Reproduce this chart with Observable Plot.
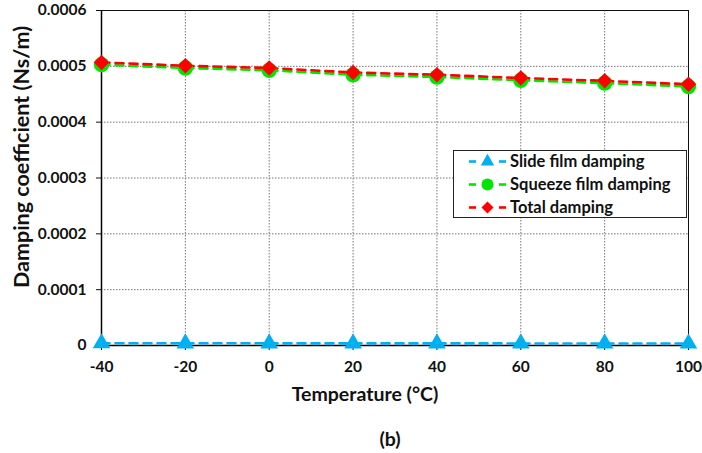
<!DOCTYPE html>
<html>
<head>
<meta charset="utf-8">
<script src="https://cdn.jsdelivr.net/npm/d3@7"></script>
<script src="https://cdn.jsdelivr.net/npm/@observablehq/plot@0.6"></script>
<style>
  html, body { margin: 0; padding: 0; background: #fff; }
  #wrap { position: relative; width: 702px; height: 453px; font-family: Lato, "Open Sans", sans-serif; }
  #legend { position: absolute; left: 453px; top: 150px; width: 234px; height: 68px;
            border: 1px solid #222; background: #fff; box-sizing: border-box; }
</style>
</head>
<body>
<div id="wrap"></div>
<script>
// Temperature (°C)
const temperature = [-40, -20, 0, 20, 40, 60, 80, 100];
// Damping coefficients (Ns/m)
const slideFilm   = [0.0000040, 0.0000039, 0.0000039, 0.0000038, 0.0000038, 0.0000037, 0.0000037, 0.0000036];
const squeezeFilm = [0.000503, 0.000497, 0.000493, 0.000485, 0.000481, 0.000475, 0.000470, 0.000464];
const totalDamp   = [0.000507, 0.000501, 0.000497, 0.000489, 0.000485, 0.000479, 0.000474, 0.000468];
const xTicks = [-40, -20, 0, 20, 40, 60, 80, 100];
const yTicks = [0, 0.0001, 0.0002, 0.0003, 0.0004, 0.0005, 0.0006];

const seriesNames = ["Slide film damping", "Squeeze film damping", "Total damping"];
const seriesColors = ["#00b0f0", "#00e600", "#ff0000"];
const seriesSymbols = ["triangle", "circle", "diamond2"];
const seriesR = [6.5, 7.7, 7.0];

const rows = (vals, i) => temperature.map((t, k) => ({t, v: vals[k], s: seriesNames[i]}));
const series = [rows(slideFilm, 0), rows(squeezeFilm, 1), rows(totalDamp, 2)];

const font = "Lato, 'Open Sans', sans-serif";

const marks = [
  Plot.gridX(xTicks, {stroke: "#777", strokeOpacity: 1, strokeDasharray: "1.5,1.5", strokeWidth: 1}),
  Plot.gridY(yTicks, {stroke: "#777", strokeOpacity: 1, strokeDasharray: "1.5,1.5", strokeWidth: 1}),
  Plot.frame({stroke: "#111", strokeWidth: 1}),
  Plot.ruleY([0], {stroke: "#000", strokeWidth: 1.5}),
  Plot.ruleX([-40], {stroke: "#000", strokeWidth: 1.5}),
  Plot.axisX({ticks: xTicks, tickSize: 5, tickPadding: 10, fontSize: 15.5, fontWeight: "bold", label: null, tickFormat: d => String(d)}),
  Plot.axisY({ticks: yTicks, tickSize: 5, tickPadding: 10, fontSize: 15.5, fontWeight: "bold", label: null,
              tickFormat: d => d === 0 ? "0" : d.toFixed(4)})
];

series.forEach((data, i) => {
  marks.push(Plot.line(data, {x: "t", y: "v", stroke: seriesColors[i], strokeWidth: 2.6, strokeDasharray: "8,6"}));
});
series.forEach((data, i) => {
  marks.push(Plot.dot(data, {x: "t", y: "v", fill: seriesColors[i], stroke: "none", symbol: seriesSymbols[i], r: seriesR[i]}));
});

marks.push(
  Plot.text(["Temperature (°C)"], {frameAnchor: "bottom", dx: -30, dy: 55, fontSize: 19.5, fontWeight: "bold", fill: "#111"}),
  Plot.text(["(b)"], {frameAnchor: "bottom", dx: -5, dy: 100, fontSize: 19.5, fontWeight: "bold", fill: "#111"}),
  Plot.text(["Damping coefficient (Ns/m)"], {frameAnchor: "left", textAnchor: "middle", dx: -79, dy: -21, rotate: -90, fontSize: 21.5, fontWeight: "bold", fill: "#111"})
);

const chart = Plot.plot({
  width: 702,
  height: 453,
  marginLeft: 101,
  marginRight: 14,
  marginTop: 10,
  marginBottom: 108,
  style: {fontFamily: font, background: "#fff", color: "#111", overflow: "visible"},
  x: {domain: [-40, 100]},
  y: {domain: [0, 0.0006]},
  marks
});

const wrap = document.getElementById("wrap");
wrap.appendChild(chart);

// Legend box
const legend = document.createElement("div");
legend.id = "legend";
const ns = "http://www.w3.org/2000/svg";
const lsvg = document.createElementNS(ns, "svg");
lsvg.setAttribute("width", 234);
lsvg.setAttribute("height", 68);
lsvg.style.display = "block";
const symGen = [d3.symbolTriangle, d3.symbolCircle, d3.symbolDiamond2];
seriesNames.forEach((name, i) => {
  const cy = 10.5 + i * 23;
  const g = document.createElementNS(ns, "g");
  const seg = (x1, x2) => {
    const l = document.createElementNS(ns, "line");
    l.setAttribute("x1", x1); l.setAttribute("x2", x2);
    l.setAttribute("y1", cy); l.setAttribute("y2", cy);
    l.setAttribute("stroke", seriesColors[i]); l.setAttribute("stroke-width", 2.6);
    g.appendChild(l);
  };
  seg(15, 22); seg(45, 52);
  const p = document.createElementNS(ns, "path");
  const r = [5, 6, 5.4][i];
  p.setAttribute("d", d3.symbol(symGen[i], Math.PI * r * r)());
  p.setAttribute("transform", `translate(33.5,${cy})`);
  p.setAttribute("fill", seriesColors[i]);
  g.appendChild(p);
  const t = document.createElementNS(ns, "text");
  t.setAttribute("x", 56); t.setAttribute("y", cy);
  t.setAttribute("dy", "0.35em");
  t.setAttribute("font-size", 16.5);
  t.setAttribute("font-weight", "bold");
  t.setAttribute("font-family", font);
  t.setAttribute("fill", "#111");
  t.textContent = name;
  g.appendChild(t);
  lsvg.appendChild(g);
});
legend.appendChild(lsvg);
wrap.appendChild(legend);
</script>
</body>
</html>
